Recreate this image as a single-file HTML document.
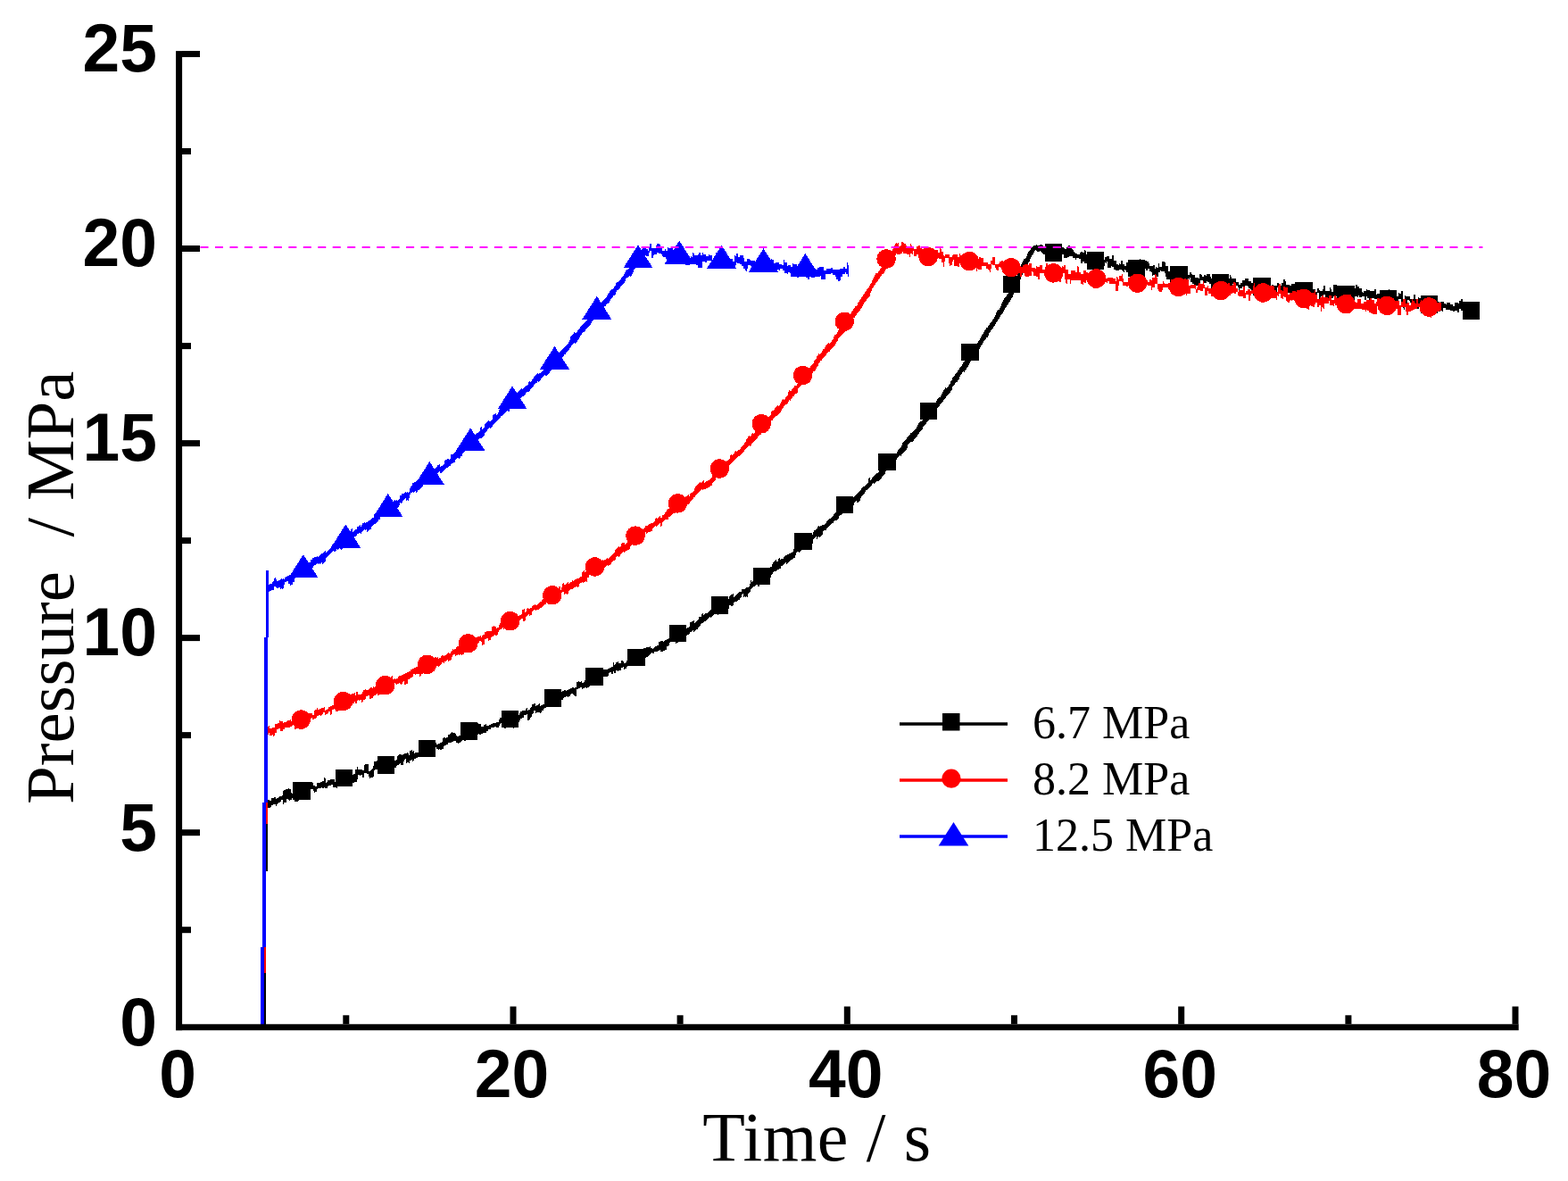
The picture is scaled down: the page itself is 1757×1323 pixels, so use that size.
<!DOCTYPE html>
<html><head><meta charset="utf-8"><title>Pressure vs Time</title>
<style>
html,body{margin:0;padding:0;background:#fff;}
body{width:1757px;height:1323px;overflow:hidden;}
svg{display:block;}
.tick{font-family:"Liberation Sans",Arial,sans-serif;font-weight:bold;font-size:75px;fill:#000;}
.title{font-family:"Liberation Serif","Times New Roman",serif;font-size:78px;fill:#000;}
.leg{font-family:"Liberation Serif","Times New Roman",serif;font-size:52px;fill:#000;}
</style></head><body>
<svg width="1757" height="1323" viewBox="0 0 1757 1323">
<rect width="1757" height="1323" fill="#fff"/>

<g shape-rendering="crispEdges">
<path fill="#000" d="M296 1151V976H297V899H300V976H298V1151Z"/>
<path fill="#000" d="M298 897H299V896H302V897H304V894H307V893H309V895H310V894H312V893H313V892H316V891H317V886H318V885H320V884H323V883H324V884H326V888H327V889H329V885H331V886H332V885H334V888H335V886H336V885H338V880H339V877H340V882H342V879H344V877H345V882H347V878H348V876H350V877H351V880H353V881H355V877H359V876H361V875H363V871H364V872H365V877H366V876H367V874H370V873H375V876H376V875H378V871H379V870H382V869H383V870H384V867H385V866H386V869H387V868H388V864H389V863H390V866H391V867H392V866H393V869H395V868H396V867H398V862H400V859H401V862H406V863H408V857H409V856H413V864H415V863H416V862H417V861H418V858H419V853H422V852H425V858H428V854H429V856H430V855H431V853H433V854H435V853H437V852H438V850H439V849H442V852H444V851H445V847H446V846H447V845H450V846H451V845H453V844H456V843H457V844H458V846H459V841H461V840H462V842H463V841H464V844H465V843H469V842H471V841H473V840H474V839H475V837H476V836H478V835H481V834H484V832H485V831H487V832H489V834H491V833H493V832H495V831H496V827H497V826H499V827H500V826H502V823H504V822H505V821H506V820H507V821H510V822H511V824H512V825H514V824H517V821H519V820H520V819H521V818H522V820H523V819H524V817H525V818H527V817H530V816H531V811H534V810H536V811H539V814H542V812H544V811H545V813H548V812H550V811H552V810H556V809H559V806H560V804H564V803H565V808H566V807H567V806H568V805H569V804H571V803H572V804H574V803H576V802H577V801H579V802H581V801H582V799H583V797H585V796H589V794H590V793H591V796H592V795H594V793H595V792H596V789H598V788H600V791H601V790H603V789H604V788H605V791H606V790H608V789H610V788H611V787H612V779H614V778H617V781H618V780H620V779H622V778H625V777H628V775H630V774H632V773H634V774H635V773H637V772H639V771H641V770H643V771H644V770H646V764H648V763H649V764H651V763H652V765H654V764H655V762H657V761H659V760H660V758H661V757H662V759H664V758H665V756H667V755H669V754H670V755H672V754H674V751H675V750H681V749H683V748H685V747H687V742H688V745H689V744H690V742H692V741H693V743H696V740H698V741H699V743H701V742H702V740H703V739H704V736H706V737H707V736H709V735H711V733H712V734H714V733H716V732H718V728H719V727H721V726H724V725H728V724H729V726H731V727H732V726H733V725H734V724H736V723H738V719H740V718H743V719H744V718H745V717H747V716H749V715H750V710H752V711H753V710H754V709H756V712H757V711H759V710H761V704H763V703H764V705H765V704H766V701H767V702H769V704H770V703H772V702H773V697H775V696H777V695H778V698H779V697H780V696H781V695H782V694H783V691H786V688H787V687H788V689H789V688H790V687H793V686H794V685H795V684H796V683H798V682H799V681H800V680H801V678H802V677H803V676H805V678H806V677H807V674H808V673H809V672H812V674H813V673H814V672H815V671H817V668H818V667H819V666H821V665H822V669H823V668H824V667H825V666H826V665H827V664H828V663H831V660H835V659H836V658H839V657H840V654H841V650H842V652H843V651H844V650H846V649H847V646H848V645H849V647H850V646H851V645H853V644H854V646H855V645H857V644H858V641H859V640H860V638H861V637H862V636H863V635H865V632H866V630H867V629H868V628H869V627H870V629H872V626H873V625H874V627H875V626H878V624H879V623H880V622H882V621H884V620H886V619H888V618H889V615H890V614H891V612H892V613H893V612H894V611H897V610H898V607H899V606H901V605H902V604H903V603H905V604H906V603H907V602H908V600H909V599H911V596H912V594H914V593H915V592H916V590H917V589H918V590H919V589H921V588H924V587H925V586H926V584H927V583H928V582H929V581H931V580H932V579H933V578H934V576H935V575H936V574H937V573H938V572H939V571H940V570H941V569H943V568H944V567H945V566H946V565H947V564H948V563H949V561H950V559H951V560H952V559H954V558H956V557H957V556H958V555H959V554H960V553H961V552H962V551H963V550H964V549H965V547H966V546H967V545H969V544H970V543H971V542H972V541H973V536H974V535H975V538H976V537H977V535H978V534H979V533H980V532H981V531H982V530H984V529H985V527H986V526H987V525H989V524H990V522H991V521H992V520H993V517H994V516H996V515H997V514H998V513H999V512H1001V510H1002V509H1004V508H1005V506H1006V504H1007V503H1008V502H1009V501H1010V499H1011V496H1012V495H1013V494H1014V493H1015V492H1016V490H1017V489H1018V488H1019V487H1020V485H1022V484H1023V483H1024V482H1025V481H1026V480H1027V478H1028V476H1029V474H1030V473H1031V472H1033V471H1034V470H1035V468H1036V467H1037V465H1038V464H1039V462H1040V461H1041V460H1042V458H1043V457H1044V456H1045V454H1046V453H1047V452H1048V451H1049V449H1050V447H1051V446H1052V445H1054V443H1055V441H1056V439H1057V437H1058V436H1059V434H1060V435H1061V434H1062V433H1063V431H1064V430H1065V427H1066V426H1067V423H1068V422H1069V421H1070V419H1071V418H1072V417H1073V415H1074V414H1075V412H1076V411H1077V410H1078V408H1079V406H1080V405H1081V404H1082V402H1083V400H1084V399H1085V397H1086V396H1087V394H1088V393H1089V392H1090V391H1091V389H1092V388H1093V386H1094V385H1095V384H1096V382H1097V381H1098V379H1099V377H1100V375H1101V374H1102V372H1103V370H1104V369H1105V367H1107V365H1108V364H1109V362H1110V361H1111V360H1112V358H1113V357H1114V355H1115V353H1116V350H1117V348H1118V347H1120V345H1121V343H1122V340H1123V338H1124V336H1125V334H1126V333H1127V332H1128V330H1129V329H1130V328H1131V326H1132V324H1133V322H1134V320H1135V319H1136V317H1137V315H1138V312H1139V309H1140V307H1141V304H1142V301H1143V299H1144V296H1145V294H1146V292H1147V290H1149V289H1150V287H1151V284H1152V282H1153V281H1154V280H1155V278H1156V277H1157V276H1158V275H1161V274H1162V275H1165V274H1168V275H1169V276H1171V278H1175V280H1178V282H1184V277H1186V278H1188V279H1190V277H1192V278H1193V279H1195V277H1196V276H1197V275H1199V276H1200V278H1201V279H1202V280H1203V282H1204V283H1205V284H1207V285H1210V283H1211V282H1213V283H1215V280H1216V281H1217V285H1220V286H1223V288H1225V291H1226V288H1228V286H1229V285H1233V286H1235V291H1238V288H1240V287H1243V290H1246V286H1248V292H1251V296H1253V297H1254V295H1255V296H1256V292H1258V296H1260V298H1262V294H1265V291H1267V293H1269V295H1270V298H1272V299H1273V297H1274V294H1277V290H1278V291H1279V293H1282V292H1285V293H1287V295H1288V298H1292V297H1294V301H1295V299H1296V300H1298V295H1299V299H1302V293H1305V294H1306V298H1309V304H1311V306H1315V307H1316V305H1317V306H1319V302H1323V299H1326V301H1328V303H1329V307H1330V308H1333V305H1335V307H1336V308H1339V311H1343V312H1344V307H1346V308H1347V310H1349V308H1351V309H1352V307H1356V310H1357V312H1358V313H1359V311H1361V313H1362V312H1365V313H1366V311H1367V312H1370V314H1371V313H1373V312H1378V308H1379V310H1380V312H1385V316H1388V319H1390V317H1392V314H1395V312H1399V315H1402V317H1405V313H1408V314H1409V315H1411V319H1415V316H1416V318H1417V316H1419V319H1420V317H1422V320H1424V322H1425V319H1427V320H1431V317H1433V318H1434V320H1436V317H1438V313H1440V315H1441V319H1445V320H1447V318H1452V319H1453V320H1454V321H1455V319H1459V323H1463V321H1464V322H1467V320H1469V324H1474V327H1476V323H1478V325H1479V326H1482V324H1483V320H1485V326H1490V322H1491V324H1492V327H1494V319H1498V324H1499V328H1506V326H1507V322H1513V323H1514V324H1515V326H1517V323H1519V319H1521V321H1523V323H1526V327H1527V328H1528V326H1531V324H1532V325H1535V326H1540V324H1542V330H1543V329H1547V330H1552V327H1556V324H1557V327H1559V328H1560V326H1562V330H1565V332H1567V328H1568V329H1570V326H1572V337H1574V331H1575V332H1580V335H1584V330H1586V335H1589V333H1590V334H1592V332H1595V338H1596V339H1599V336H1600V334H1601V335H1604V339H1608V340H1609V342H1611V338H1613V340H1614V338H1618V340H1620V341H1621V339H1625V341H1628V343H1630V339H1634V340H1635V337H1637V335H1639V340H1644V341H1646V339H1648V343H1649V344H1653V343H1655V347H1656V346H1657V357H1656V358H1653V351H1652V350H1647V352H1646V351H1642V349H1641V348H1637V346H1635V350H1633V348H1630V349H1628V348H1625V347H1620V345H1617V349H1616V348H1615V346H1614V349H1613V347H1612V346H1609V348H1605V345H1604V341H1603V346H1601V345H1599V347H1593V342H1590V346H1588V344H1586V343H1584V342H1583V340H1582V339H1580V337H1579V336H1577V342H1574V347H1573V345H1572V341H1570V335H1567V339H1566V341H1563V340H1562V336H1556V338H1552V336H1549V334H1546V340H1543V335H1540V334H1536V341H1534V334H1532V332H1531V336H1529V332H1526V333H1523V331H1522V333H1521V332H1517V334H1513V333H1512V335H1511V334H1510V333H1509V329H1507V333H1504V332H1499V336H1498V332H1494V334H1492V331H1490V335H1486V334H1485V330H1483V332H1480V336H1478V328H1476V336H1474V333H1472V329H1471V328H1469V330H1465V332H1460V331H1457V327H1450V328H1441V327H1440V330H1438V326H1436V327H1434V324H1433V322H1431V330H1428V326H1422V323H1419V324H1417V327H1415V329H1414V325H1409V322H1406V328H1402V324H1401V323H1399V321H1398V320H1395V323H1394V321H1392V323H1389V325H1388V322H1387V320H1385V319H1383V318H1381V325H1380V324H1377V319H1376V318H1375V320H1373V321H1371V322H1366V323H1365V319H1363V321H1362V322H1360V321H1359V325H1357V318H1355V316H1353V315H1352V317H1349V315H1348V314H1345V318H1344V320H1340V321H1339V319H1338V318H1336V316H1334V311H1333V313H1332V312H1330V314H1329V310H1327V309H1321V308H1319V312H1316V315H1312V314H1311V313H1307V310H1306V306H1305V304H1301V303H1300V305H1298V310H1295V312H1294V308H1292V309H1291V305H1290V304H1288V301H1286V303H1284V301H1282V302H1279V303H1277V304H1276V308H1273V307H1270V304H1267V301H1265V305H1262V303H1261V302H1260V305H1259V304H1258V303H1257V302H1254V303H1250V302H1248V299H1246V298H1245V300H1241V293H1240V295H1239V294H1238V298H1237V297H1235V298H1233V300H1231V296H1230V295H1229V296H1226V298H1225V295H1222V292H1218V295H1215V293H1213V295H1211V290H1209V289H1206V291H1205V289H1202V287H1198V288H1196V289H1192V285H1186V287H1184V288H1180V292H1178V291H1175V285H1174V284H1172V286H1171V285H1169V284H1168V283H1167V282H1166V281H1165V282H1162V281H1161V280H1160V281H1159V283H1158V285H1157V286H1156V288H1155V290H1154V293H1153V294H1152V296H1151V298H1150V299H1149V301H1148V302H1147V305H1146V308H1145V310H1144V313H1143V315H1142V318H1141V320H1140V322H1139V324H1138V326H1137V328H1136V330H1135V333H1134V334H1133V336H1132V338H1131V339H1130V341H1129V342H1128V344H1127V345H1126V347H1125V349H1124V351H1123V352H1122V353H1121V355H1120V357H1119V358H1118V360H1117V361H1116V363H1115V365H1114V366H1113V368H1112V369H1111V370H1110V372H1109V373H1108V376H1107V378H1105V380H1104V381H1103V382H1102V384H1101V386H1100V387H1099V389H1098V391H1097V393H1096V394H1095V395H1094V397H1093V398H1092V399H1091V401H1090V403H1089V404H1088V405H1087V407H1086V409H1085V411H1084V412H1083V414H1082V415H1081V417H1080V416H1079V417H1078V419H1077V420H1076V422H1075V425H1074V426H1073V428H1071V429H1070V431H1069V432H1068V433H1067V437H1066V438H1065V440H1064V441H1063V442H1062V443H1061V444H1060V446H1059V447H1058V448H1057V450H1056V451H1055V452H1054V453H1053V455H1052V456H1051V457H1050V460H1049V461H1048V462H1047V463H1046V465H1044V466H1043V467H1042V469H1041V471H1040V472H1039V473H1038V475H1037V476H1036V477H1035V478H1034V481H1033V482H1032V483H1031V484H1030V486H1029V487H1028V489H1027V490H1026V491H1025V492H1024V494H1023V495H1020V496H1019V497H1018V498H1017V502H1016V504H1015V505H1014V506H1013V507H1012V508H1011V509H1010V511H1009V510H1008V511H1007V512H1006V513H1005V515H1004V519H1003V520H1002V519H1001V520H999V521H998V522H997V523H996V524H995V525H994V526H993V528H992V531H991V532H990V533H989V534H988V536H987V537H986V538H985V539H982V540H981V541H980V542H979V541H978V542H977V544H976V545H975V546H974V547H973V548H972V549H970V551H969V553H968V554H967V555H966V556H965V558H964V561H963V562H962V563H960V561H959V562H958V563H957V566H956V567H955V568H954V569H953V568H951V569H950V571H947V572H946V573H945V574H944V576H943V577H941V578H940V581H939V582H938V583H935V584H934V586H932V587H931V588H930V589H929V590H928V591H927V592H926V594H923V595H922V599H921V600H920V601H919V602H918V601H917V602H916V604H915V601H914V602H913V603H912V604H911V609H910V610H909V611H908V612H904V613H903V614H902V613H901V614H899V615H898V617H897V618H896V619H895V618H893V619H892V622H891V625H889V626H888V627H886V628H885V629H884V630H883V631H882V632H881V630H880V631H879V632H878V633H877V634H875V637H873V638H871V639H870V640H867V641H866V643H865V644H864V647H863V648H862V649H861V650H858V651H857V652H856V651H855V652H854V650H853V653H852V654H851V657H849V655H847V656H846V657H844V658H843V659H842V660H841V663H840V664H839V665H838V669H837V668H836V669H835V668H834V669H833V665H832V666H831V669H830V670H829V672H827V673H826V674H823V675H822V678H821V679H819V678H817V682H815V683H814V681H813V682H811V683H809V682H808V683H807V688H805V689H804V686H803V687H801V688H800V689H799V690H798V691H797V692H796V691H795V692H794V693H793V694H792V695H791V696H789V697H788V698H786V699H785V701H784V702H783V703H782V705H780V706H779V707H778V708H777V706H776V707H775V708H773V710H772V711H770V712H769V714H768V715H767V714H766V715H765V716H763V717H762V718H761V719H760V720H758V721H757V718H756V716H754V717H752V719H751V720H750V723H749V724H747V728H745V729H743V730H740V728H739V729H737V730H733V732H731V731H730V732H729V733H728V734H727V735H726V736H724V737H723V736H722V737H721V738H720V740H718V742H717V744H716V745H714V746H713V745H712V744H710V745H709V744H707V745H706V746H704V745H703V747H702V749H700V750H699V747H698V748H696V751H693V752H692V751H690V754H688V752H687V755H685V753H683V754H682V757H681V758H676V760H673V761H672V760H670V761H669V763H667V764H665V765H664V767H662V768H661V769H660V770H658V771H657V770H655V771H653V772H652V770H650V771H648V772H646V780H644V779H643V778H642V777H640V778H639V780H637V781H636V780H634V781H632V782H631V784H629V788H626V784H625V785H623V783H622V784H620V785H619V788H618V789H617V790H616V788H613V789H612V793H610V794H609V796H607V798H606V799H605V798H601V799H600V796H598V799H597V800H596V803H595V804H594V806H593V807H591V800H590V801H587V804H585V805H583V807H582V809H581V810H579V811H578V815H576V816H575V813H572V810H569V812H567V816H565V814H564V810H561V811H560V813H559V815H556V814H554V815H550V817H547V819H545V821H541V822H539V823H537V822H536V823H534V820H533V821H530V822H527V824H526V825H524V829H522V830H520V828H519V829H518V830H517V831H516V832H514V833H513V832H511V830H508V831H506V832H502V834H500V835H498V836H497V839H495V840H493V839H492V840H491V839H489V837H487V839H485V840H483V842H481V843H477V844H476V845H475V844H474V845H473V846H471V847H469V848H468V849H466V850H464V852H463V853H462V851H461V852H459V855H458V854H456V855H455V850H454V851H453V853H452V857H449V855H448V856H447V857H445V858H444V860H441V857H439V861H437V862H436V863H435V861H434V862H432V861H431V863H430V864H429V862H428V865H427V866H425V864H424V862H420V863H419V870H418V871H415V872H414V870H413V867H411V866H408V871H406V868H404V869H403V868H401V873H400V876H397V877H395V878H394V879H391V878H390V876H387V877H385V878H383V879H381V878H378V883H377V882H373V879H371V880H368V881H367V883H364V882H363V883H361V882H360V883H356V884H355V887H353V888H352V886H351V884H348V887H344V890H343V892H342V888H340V890H339V892H338V893H335V897H334V898H330V893H328V894H327V896H325V897H324V896H323V895H321V899H318V901H317V896H315V898H314V899H312V900H311V901H310V903H309V901H306V902H304V904H303V905H300V906H298Z"/>
<g fill="#000"><rect x="328.1" y="876.0" width="19.5" height="19.5"/><rect x="375.6" y="861.9" width="19.5" height="19.5"/><rect x="422.6" y="847.0" width="19.5" height="19.5"/><rect x="468.9" y="828.5" width="19.5" height="19.5"/><rect x="515.6" y="809.2" width="19.5" height="19.5"/><rect x="561.9" y="795.9" width="19.5" height="19.5"/><rect x="609.5" y="772.0" width="19.5" height="19.5"/><rect x="656.2" y="748.1" width="19.5" height="19.5"/><rect x="703.0" y="726.5" width="19.5" height="19.5"/><rect x="749.6" y="699.6" width="19.5" height="19.5"/><rect x="796.5" y="668.2" width="19.5" height="19.5"/><rect x="843.5" y="635.5" width="19.5" height="19.5"/><rect x="890.4" y="596.8" width="19.5" height="19.5"/><rect x="936.8" y="555.8" width="19.5" height="19.5"/><rect x="984.2" y="507.5" width="19.5" height="19.5"/><rect x="1030.5" y="450.6" width="19.5" height="19.5"/><rect x="1077.0" y="384.6" width="19.5" height="19.5"/><rect x="1123.8" y="308.9" width="19.5" height="19.5"/><rect x="1170.8" y="273.2" width="19.5" height="19.5"/><rect x="1217.5" y="282.4" width="19.5" height="19.5"/><rect x="1263.5" y="290.6" width="19.5" height="19.5"/><rect x="1311.3" y="297.9" width="19.5" height="19.5"/><rect x="1357.8" y="306.8" width="19.5" height="19.5"/><rect x="1404.3" y="311.1" width="19.5" height="19.5"/><rect x="1451.2" y="316.1" width="19.5" height="19.5"/><rect x="1498.3" y="319.9" width="19.5" height="19.5"/><rect x="1545.5" y="324.8" width="19.5" height="19.5"/><rect x="1591.8" y="331.1" width="19.5" height="19.5"/><rect x="1638.7" y="338.1" width="19.5" height="19.5"/></g>
<path fill="#f00" d="M296 1090V1061H295V923H297V812H300V923H298V1090Z"/>
<path fill="#f00" d="M299 814H301V813H302V816H305V815H308V811H311V810H313V807H314V808H317V810H318V809H321V808H322V807H325V806H326V808H327V806H330V805H332V806H333V805H335V806H337V805H339V804H340V803H342V801H343V800H346V799H350V801H352V796H353V795H355V793H356V795H358V794H360V793H363V792H364V796H365V795H367V794H368V792H370V791H372V790H374V789H375V788H377V787H378V784H381V787H383V786H385V785H386V781H387V780H388V777H389V776H390V778H391V777H392V778H394V777H397V776H398V779H399V775H401V778H405V777H406V775H407V773H409V772H410V773H413V772H414V771H415V770H417V771H418V769H419V770H420V769H423V771H425V770H428V769H432V767H434V764H436V760H438V758H439V757H440V761H442V760H443V761H444V760H446V758H447V757H450V756H452V755H454V754H456V753H458V752H460V750H462V749H464V748H466V747H470V748H472V747H474V745H475V742H477V743H479V744H480V743H481V741H483V742H485V737H487V736H489V737H490V736H491V738H492V737H494V735H495V734H497V735H498V734H500V733H501V732H502V731H503V732H505V730H506V729H507V727H508V728H509V727H511V725H512V724H516V723H518V722H520V721H522V719H523V718H524V719H525V721H526V720H527V717H529V713H531V714H532V715H533V714H535V713H538V712H539V714H540V712H541V711H543V708H545V707H551V702H553V701H554V702H556V704H557V703H559V700H560V698H562V697H563V698H564V699H566V698H567V700H568V699H569V697H570V696H571V693H573V692H574V694H575V692H577V691H578V693H579V691H580V690H582V689H584V688H585V683H587V682H588V686H589V685H590V682H591V681H592V682H594V681H596V679H597V678H599V677H600V678H602V677H603V676H604V675H605V674H607V672H608V671H609V668H611V667H613V666H614V668H615V670H616V669H618V664H619V663H622V664H623V663H624V662H625V660H626V657H628V661H629V658H630V654H631V653H632V655H634V654H635V653H636V652H637V654H638V653H639V652H641V650H642V651H643V650H644V649H646V648H649V647H650V646H652V641H653V640H654V639H655V641H656V640H657V641H658V640H660V638H661V637H662V636H664V637H666V636H667V633H668V632H669V631H670V630H671V629H672V631H673V629H674V628H675V627H676V628H677V627H679V626H680V625H681V626H682V625H683V624H684V623H685V622H686V621H687V620H688V619H689V616H690V615H691V614H692V613H693V612H694V613H695V612H696V609H697V608H700V610H701V609H702V608H703V607H704V604H706V603H708V599H710V600H711V599H712V600H713V599H715V598H716V597H717V596H719V594H720V593H721V592H722V591H723V589H726V588H727V587H729V586H732V585H733V584H734V581H735V580H736V581H737V580H738V579H739V578H740V580H742V577H744V576H745V574H746V573H747V571H748V570H750V569H753V568H754V565H756V566H757V565H758V562H760V560H761V559H762V558H763V557H764V558H765V557H766V558H767V557H768V556H770V555H771V554H772V556H773V553H774V552H776V551H777V550H778V547H779V545H780V544H781V543H782V542H783V541H784V540H785V541H786V540H787V539H788V538H789V541H790V540H791V539H793V538H795V537H796V536H797V535H798V531H799V530H800V529H801V528H803V527H804V526H805V525H806V524H807V523H808V522H809V523H810V522H811V519H812V518H813V517H814V516H816V515H817V514H818V510H819V509H820V510H821V509H822V508H823V506H824V505H825V506H826V505H827V504H829V503H830V501H831V500H832V499H833V498H834V496H835V495H836V492H837V491H838V489H839V488H840V489H841V488H842V486H843V485H844V486H845V485H846V483H847V482H848V481H849V479H850V477H851V475H853V476H854V475H855V474H856V473H857V472H858V471H859V470H860V468H861V467H862V466H863V465H864V461H865V460H867V459H868V457H869V456H870V455H871V454H872V455H873V454H874V452H875V450H876V448H877V447H878V448H879V447H880V445H881V444H882V443H883V439H884V437H885V438H887V436H888V435H889V434H890V432H893V430H894V428H895V426H896V425H897V424H898V422H899V421H900V420H902V418H903V417H904V416H905V414H906V413H907V412H908V410H909V409H910V408H911V407H912V404H913V403H914V402H915V399H916V398H917V396H918V397H919V396H920V395H921V393H922V391H924V389H925V387H926V386H927V385H928V384H929V385H930V384H931V383H932V381H933V380H934V377H935V375H937V374H938V372H939V370H940V368H941V367H942V364H943V363H944V362H945V361H946V360H947V358H948V357H949V356H950V354H952V353H953V351H954V349H955V348H956V346H957V345H958V343H960V342H961V339H962V338H963V336H964V335H965V333H966V332H967V330H968V329H969V327H970V326H971V324H972V323H973V322H974V320H975V318H976V317H977V314H978V312H979V310H980V308H981V306H984V304H985V303H986V301H987V300H988V298H990V296H991V294H992V292H993V288H994V287H996V286H997V285H998V284H999V282H1000V279H1001V277H1002V275H1003V273H1004V272H1005V273H1006V272H1007V276H1009V275H1010V271H1012V272H1013V273H1015V275H1016V276H1019V277H1020V273H1021V275H1022V276H1024V279H1027V276H1029V275H1031V278H1033V279H1034V280H1036V279H1038V280H1042V285H1044V283H1046V286H1048V280H1051V283H1053V278H1054V279H1055V282H1057V286H1058V287H1059V285H1064V288H1067V286H1068V285H1073V288H1075V284H1076V286H1077V289H1078V285H1079V286H1082V291H1087V289H1088V285H1092V288H1094V292H1095V290H1097V288H1099V289H1102V294H1107V296H1110V292H1112V288H1115V296H1119V295H1120V293H1122V292H1124V293H1127V298H1128V299H1130V295H1134V298H1137V299H1140V295H1142V300H1143V301H1144V299H1146V297H1148V296H1152V297H1153V295H1156V300H1160V301H1161V298H1162V299H1165V297H1168V302H1171V299H1172V295H1174V301H1176V305H1177V306H1179V304H1183V305H1187V307H1190V298H1191V299H1192V297H1194V302H1197V307H1200V303H1205V305H1207V298H1208V299H1209V305H1211V307H1214V303H1217V305H1219V311H1222V307H1225V310H1227V308H1229V306H1230V307H1233V305H1235V307H1237V312H1241V311H1247V312H1250V315H1251V310H1252V311H1253V313H1254V309H1257V307H1258V312H1259V316H1264V311H1267V312H1269V314H1271V312H1275V314H1278V310H1279V312H1283V314H1286V316H1288V313H1290V314H1291V311H1294V307H1295V308H1296V311H1297V318H1303V315H1304V317H1305V318H1309V317H1312V313H1314V315H1315V316H1316V315H1320V314H1327V312H1329V313H1332V320H1334V319H1340V324H1341V322H1342V319H1343V317H1345V318H1348V315H1349V319H1350V322H1353V320H1354V323H1360V322H1361V324H1364V321H1366V322H1367V315H1369V322H1370V325H1375V322H1376V317H1378V320H1381V319H1382V316H1384V317H1385V323H1387V327H1388V325H1393V321H1395V328H1396V326H1398V324H1401V326H1402V325H1404V320H1405V317H1406V322H1409V325H1410V323H1411V326H1413V328H1415V329H1417V324H1418V322H1420V324H1422V322H1423V320H1427V321H1428V325H1430V327H1432V320H1433V318H1435V325H1437V326H1438V321H1440V322H1443V330H1445V328H1448V326H1452V327H1453V325H1455V331H1456V332H1457V329H1462V333H1463V328H1466V335H1467V334H1469V328H1473V325H1474V330H1476V335H1479V333H1481V331H1483V333H1488V334H1489V331H1492V336H1495V331H1497V333H1498V334H1500V335H1501V333H1506V334H1507V335H1509V340H1510V337H1511V330H1514V335H1516V339H1521V335H1525V340H1528V338H1531V336H1535V334H1537V336H1540V340H1542V338H1543V334H1546V337H1548V335H1551V336H1553V338H1554V341H1555V339H1559V334H1562V337H1568V342H1570V338H1572V335H1575V340H1577V339H1579V342H1581V339H1582V335H1583V337H1585V339H1586V340H1587V335H1589V340H1591V338H1592V336H1593V337H1594V338H1595V335H1598V340H1601V342H1603V345H1608V342H1610V339H1615V348H1613V349H1610V347H1608V349H1604V356H1603V353H1601V344H1599V347H1598V346H1596V351H1593V349H1592V342H1591V344H1588V346H1585V347H1583V348H1581V349H1578V353H1576V349H1575V344H1570V353H1566V346H1565V343H1559V347H1557V350H1554V347H1553V344H1548V346H1546V343H1543V352H1538V351H1536V350H1534V348H1532V347H1531V349H1530V347H1526V346H1518V345H1517V343H1516V342H1515V344H1513V348H1510V344H1506V342H1500V340H1499V342H1496V340H1495V343H1494V342H1490V337H1489V340H1484V346H1483V345H1482V344H1481V349H1480V342H1478V344H1476V339H1474V341H1473V344H1471V343H1469V341H1467V347H1466V346H1464V339H1462V336H1459V338H1457V343H1455V337H1454V336H1453V338H1452V337H1451V336H1448V337H1447V336H1446V337H1445V339H1443V338H1442V337H1441V333H1439V332H1438V335H1437V334H1435V329H1433V332H1432V331H1431V336H1430V334H1424V331H1422V333H1421V332H1420V331H1417V335H1413V336H1411V333H1410V329H1409V326H1405V329H1402V331H1401V337H1399V330H1396V334H1393V332H1388V331H1387V327H1385V329H1383V328H1381V329H1379V331H1375V334H1374V335H1372V336H1370V333H1369V328H1366V330H1364V333H1363V328H1360V330H1359V332H1357V329H1354V326H1353V331H1350V323H1348V326H1345V325H1342V328H1340V324H1339V323H1334V329H1330V331H1329V328H1326V321H1323V320H1320V326H1317V328H1316V327H1313V326H1312V324H1309V322H1303V325H1302V327H1299V326H1298V324H1297V318H1294V322H1291V325H1290V320H1286V319H1285V318H1283V321H1281V317H1280V316H1278V325H1275V323H1273V319H1271V318H1270V322H1268V323H1265V318H1264V321H1262V320H1258V316H1257V315H1254V320H1253V326H1250V318H1243V315H1241V317H1240V316H1236V320H1235V319H1231V318H1230V317H1227V323H1225V321H1223V320H1222V316H1220V315H1219V314H1217V317H1215V316H1214V319H1213V318H1211V314H1200V318H1199V313H1196V318H1195V317H1194V313H1193V306H1190V311H1189V316H1187V314H1186V312H1183V313H1181V317H1179V312H1176V314H1174V306H1171V308H1170V306H1165V313H1163V310H1161V309H1158V305H1157V304H1156V309H1153V310H1149V309H1148V306H1145V310H1143V306H1141V304H1138V303H1137V305H1134V304H1133V309H1131V308H1128V306H1124V301H1122V300H1121V299H1119V303H1117V302H1116V300H1115V297H1112V296H1111V301H1110V305H1109V303H1108V302H1107V301H1105V298H1100V302H1096V301H1095V304H1094V299H1092V292H1088V296H1086V298H1084V302H1082V295H1079V293H1077V295H1075V299H1073V298H1069V291H1068V293H1067V297H1065V298H1064V295H1063V289H1059V293H1058V299H1057V294H1055V290H1052V289H1048V290H1046V287H1044V290H1042V292H1041V291H1038V290H1037V292H1036V293H1033V292H1032V290H1031V288H1029V285H1027V287H1024V281H1023V285H1022V284H1020V288H1019V285H1016V284H1012V282H1011V284H1009V285H1005V284H1004V286H1002V288H1001V290H1000V291H999V293H998V294H997V295H996V297H995V298H994V300H993V302H992V304H991V306H990V307H988V309H987V310H986V312H985V313H984V315H983V316H982V317H981V319H980V320H979V322H978V323H977V326H976V328H975V332H974V333H973V334H972V335H971V337H970V338H969V339H968V341H967V343H966V345H965V346H964V348H963V349H962V350H961V351H960V353H959V354H958V356H956V359H955V360H954V362H952V364H951V366H950V367H949V368H948V370H947V372H946V373H945V374H944V375H943V376H942V377H941V378H940V379H939V382H938V383H937V385H936V387H935V388H934V389H933V390H932V391H931V392H930V394H928V395H927V396H926V398H925V399H924V400H923V401H922V402H921V404H919V406H918V407H917V410H916V411H915V413H914V415H913V416H911V418H909V420H908V421H907V423H906V424H905V425H904V426H903V427H902V428H901V429H900V431H899V430H898V432H897V433H896V434H895V435H894V440H893V441H891V442H890V444H888V446H887V447H886V449H885V448H884V450H883V452H882V453H880V454H879V455H878V457H877V458H876V460H875V462H874V463H873V464H872V465H871V466H869V467H868V468H867V469H866V471H864V473H863V475H862V476H861V477H860V478H859V480H858V481H856V482H855V484H854V485H853V487H851V488H850V489H849V491H848V492H847V493H846V494H845V495H844V496H843V497H842V499H841V500H840V499H839V500H838V501H837V502H836V503H835V504H834V506H833V507H832V508H831V509H830V510H829V511H827V512H826V513H825V514H824V515H823V516H822V517H821V518H820V519H819V520H818V521H817V522H816V523H815V527H814V528H813V529H812V530H811V529H810V530H808V531H807V533H805V534H803V535H802V538H801V539H800V540H799V541H798V544H796V545H795V546H793V547H791V548H788V549H787V548H786V549H785V550H784V551H783V552H782V553H781V554H780V555H779V557H777V559H776V560H775V561H774V562H773V564H772V565H770V566H769V565H768V566H767V568H766V567H765V568H764V567H761V568H760V570H759V571H758V574H757V575H754V576H753V577H752V578H751V579H749V582H745V583H744V584H743V585H742V589H741V590H740V586H739V587H738V588H737V589H736V590H735V589H734V590H733V591H732V592H731V595H729V596H726V597H725V598H724V596H723V599H722V600H721V601H720V602H719V603H718V604H717V605H716V606H715V608H714V610H712V609H711V610H710V611H709V610H708V611H707V612H706V615H705V616H703V617H701V618H700V619H699V618H698V619H697V620H696V621H695V623H694V624H693V623H691V624H690V627H689V628H687V629H686V630H685V632H684V633H682V634H681V633H680V634H679V635H678V636H676V634H675V635H673V637H672V638H670V641H669V643H668V644H666V645H665V643H664V642H662V643H661V644H660V647H658V652H657V651H656V652H654V653H653V652H652V653H650V654H649V657H648V658H647V657H645V658H643V659H642V660H639V661H638V662H637V665H636V666H635V665H633V666H632V663H630V664H629V666H628V667H627V668H625V671H623V672H620V673H618V674H617V675H615V673H614V674H613V675H612V677H610V678H609V679H608V680H607V681H605V682H604V683H601V684H600V683H598V684H597V685H596V689H594V690H593V688H592V689H591V690H590V691H589V695H588V696H586V693H584V694H583V695H581V698H580V699H579V700H578V701H576V702H574V699H572V700H571V705H569V704H568V705H567V704H565V705H564V703H563V704H562V705H560V706H559V708H558V711H557V712H555V711H554V712H553V713H551V714H550V717H548V718H547V715H545V716H543V722H541V723H540V719H539V718H537V720H536V721H535V722H534V723H532V722H530V723H528V722H527V726H525V728H522V729H520V733H518V734H517V733H515V734H514V733H513V734H511V735H510V733H508V734H507V736H506V739H505V740H503V741H502V739H501V740H500V741H498V743H497V742H495V744H494V745H493V746H492V747H491V746H489V747H488V744H487V745H485V750H484V753H483V752H481V753H479V754H477V753H476V752H475V754H474V755H472V757H471V758H470V755H466V756H465V755H463V758H462V759H460V760H459V761H457V766H455V767H453V763H452V764H451V766H450V767H449V766H448V765H447V766H445V767H444V766H443V765H442V767H441V768H439V769H438V771H437V773H435V771H434V773H433V774H431V777H428V778H425V779H423V777H422V778H421V779H419V780H418V782H416V783H414V779H412V780H410V783H409V784H407V786H406V787H405V784H403V785H402V784H401V785H400V788H398V786H397V788H394V784H393V785H391V788H390V789H389V791H388V794H387V795H384V794H383V795H381V796H379V797H376V795H375V794H374V795H372V800H371V801H370V797H368V799H367V800H365V801H364V798H362V800H361V801H360V802H359V801H357V802H355V804H354V805H352V806H350V804H349V805H348V806H347V807H346V808H344V807H343V808H342V811H339V810H336V811H335V815H334V816H332V817H330V812H328V813H327V814H325V815H319V817H317V819H314V816H312V817H310V821H308V824H307V825H306V823H305V824H302V821H301V823H299Z"/>
<g fill="#f00"><circle cx="337.3" cy="806.1" r="10.7"/><circle cx="384.6" cy="785.5" r="10.7"/><circle cx="431.6" cy="767.6" r="10.7"/><circle cx="478.6" cy="744.4" r="10.7"/><circle cx="524.6" cy="720.8" r="10.7"/><circle cx="571.6" cy="695.6" r="10.7"/><circle cx="618.8" cy="666.8" r="10.7"/><circle cx="666.5" cy="635.0" r="10.7"/><circle cx="712.0" cy="600.1" r="10.7"/><circle cx="759.4" cy="563.9" r="10.7"/><circle cx="806.3" cy="525.0" r="10.7"/><circle cx="853.3" cy="474.7" r="10.7"/><circle cx="899.5" cy="420.5" r="10.7"/><circle cx="946.2" cy="360.2" r="10.7"/><circle cx="993.1" cy="290.0" r="10.7"/><circle cx="1040.1" cy="287.7" r="10.7"/><circle cx="1086.2" cy="292.6" r="10.7"/><circle cx="1133.0" cy="299.8" r="10.7"/><circle cx="1180.6" cy="305.8" r="10.7"/><circle cx="1228.6" cy="312.0" r="10.7"/><circle cx="1274.7" cy="317.2" r="10.7"/><circle cx="1320.5" cy="321.5" r="10.7"/><circle cx="1368.3" cy="325.6" r="10.7"/><circle cx="1415.4" cy="328.0" r="10.7"/><circle cx="1461.0" cy="334.5" r="10.7"/><circle cx="1508.1" cy="340.8" r="10.7"/><circle cx="1554.3" cy="342.4" r="10.7"/><circle cx="1601.2" cy="344.0" r="10.7"/></g>
<path fill="#00f" d="M292 1151V1061H294V899H296V714H298V639H301V714H300V899H298V1061H296V1151Z"/>
<path fill="#00f" d="M301 655H302V654H305V652H306V651H307V648H308V647H309V649H310V651H312V650H314V649H315V648H316V649H317V648H318V649H319V647H320V646H322V645H324V644H325V646H326V645H327V642H328V641H330V640H331V636H333V635H334V634H335V633H336V636H337V635H338V637H339V636H340V637H342V636H343V634H344V633H345V631H346V630H348V627H350V625H352V624H355V623H356V624H357V623H358V622H359V621H360V620H362V619H363V618H364V617H365V619H366V618H367V617H368V616H369V615H370V614H371V613H372V610H373V609H374V608H375V611H376V610H377V608H379V607H380V606H381V605H382V606H383V603H384V602H386V603H388V601H389V600H390V599H391V596H392V595H393V593H394V592H395V596H396V595H397V594H398V593H400V590H402V589H403V588H404V590H405V588H406V586H408V585H409V586H410V585H412V584H413V583H415V582H416V581H417V580H419V576H420V575H421V574H422V577H423V576H424V575H426V571H428V570H429V567H430V566H431V565H433V564H435V563H436V566H437V565H439V564H440V563H441V561H442V560H443V561H444V560H445V561H446V560H447V559H448V555H450V553H453V552H454V551H455V552H456V551H457V552H458V551H459V547H460V545H461V544H462V541H464V540H466V539H467V538H468V537H469V536H470V535H473V534H475V533H476V532H477V531H479V530H481V529H482V530H484V528H485V527H486V525H488V524H489V523H490V521H492V520H493V523H494V522H496V521H497V520H498V516H499V515H501V514H503V515H504V514H505V509H508V508H509V507H510V506H511V505H512V504H515V503H516V502H517V498H518V497H519V499H520V498H521V496H522V494H523V493H524V491H525V490H526V491H527V490H528V489H529V488H530V487H531V488H532V487H533V486H534V485H536V484H537V483H538V479H539V478H540V481H541V480H542V479H543V475H544V474H545V473H546V472H547V471H548V472H550V471H551V470H552V465H553V464H555V463H556V465H557V464H558V462H559V459H560V458H561V457H562V455H563V454H564V453H565V452H566V451H567V453H568V452H569V451H570V450H571V449H572V448H573V447H575V443H576V442H577V441H579V440H580V439H581V438H582V437H583V436H584V435H585V436H586V435H587V434H588V433H589V432H591V431H592V428H593V427H594V428H595V427H596V425H597V424H598V422H599V421H600V420H601V419H602V418H603V419H604V418H606V417H607V416H608V415H609V414H610V412H611V411H613V410H614V407H615V406H616V404H617V406H618V405H619V404H620V403H621V401H622V398H623V397H624V396H625V394H626V395H627V394H628V393H629V392H630V391H631V390H632V389H633V388H634V387H635V386H636V385H637V383H638V381H639V377H640V376H641V375H642V374H643V372H644V373H646V372H647V370H648V369H649V368H650V366H651V365H652V364H653V363H654V362H655V361H656V360H657V359H658V357H659V356H660V355H661V354H662V351H663V350H664V349H666V348H667V347H668V345H669V344H670V342H671V341H672V340H673V339H674V338H675V337H676V336H677V335H678V334H679V333H680V331H681V329H682V328H683V326H684V325H685V324H687V323H688V321H689V320H690V317H691V316H693V315H694V314H695V313H696V311H697V310H698V309H699V307H700V305H701V303H702V302H704V301H705V300H706V298H708V296H709V295H710V292H711V291H712V290H713V289H714V287H716V285H717V282H718V281H719V279H720V278H722V277H724V279H726V281H727V277H728V273H730V278H735V275H736V273H739V274H740V278H742V281H745V279H746V281H748V277H749V278H752V276H753V277H754V282H756V284H759V286H761V285H764V290H765V287H768V286H769V287H771V290H772V291H774V287H775V288H776V283H777V284H778V286H782V285H783V283H785V286H787V283H788V285H791V287H794V285H795V286H798V291H800V287H802V283H804V284H805V288H807V289H809V290H812V288H813V289H817V290H821V293H823V286H824V287H825V284H827V288H829V286H833V289H834V293H837V290H840V291H841V292H846V294H847V293H848V291H849V295H851V291H852V292H856V288H860V290H862V292H864V290H865V291H867V295H869V294H873V296H876V297H878V291H879V294H882V298H883V297H886V299H888V295H889V296H893V303H896V299H897V293H901V296H904V302H907V300H913V302H916V300H918V299H923V303H926V301H931V300H933V302H941V301H945V299H947V301H949V294H950V297H951V310H950V307H948V305H947V307H944V310H942V314H941V315H939V313H937V310H936V308H933V306H931V307H925V313H920V309H918V310H913V311H909V307H907V313H905V311H903V308H901V306H898V305H896V309H895V311H893V309H892V308H891V310H886V306H885V305H883V307H882V306H879V303H877V301H874V303H873V302H869V303H864V300H862V299H859V303H856V298H851V302H849V298H848V297H847V299H844V305H842V298H841V297H838V301H837V304H836V303H835V301H833V298H831V296H829V295H826V294H825V297H824V301H821V299H817V297H816V295H813V299H812V300H811V298H807V294H802V295H798V292H792V294H790V293H787V300H782V297H780V296H777V294H774V295H773V297H768V294H766V293H765V296H761V293H759V290H756V289H755V288H753V287H752V289H751V288H749V290H748V294H747V290H746V288H743V287H742V285H741V284H738V283H736V285H733V286H732V289H730V281H728V283H727V287H724V286H722V287H720V289H719V291H718V293H717V295H716V296H714V298H713V299H712V301H711V302H710V305H709V307H708V309H707V310H706V309H705V310H704V311H702V312H701V315H700V317H699V318H698V319H697V320H696V321H695V323H694V324H693V325H691V327H690V330H689V331H687V333H686V334H685V335H684V337H683V339H682V340H680V341H679V343H677V344H676V346H675V348H674V349H673V350H672V351H670V352H669V353H668V355H667V357H666V358H665V359H664V360H663V362H662V364H661V365H660V366H659V367H658V368H657V369H656V371H655V372H653V373H652V375H651V376H650V378H649V380H648V381H647V383H646V384H645V385H644V384H643V385H642V386H641V387H640V389H639V390H638V392H637V393H636V394H635V395H634V397H632V399H631V400H630V402H629V403H628V404H627V405H626V404H625V406H624V407H622V410H621V411H620V413H619V414H618V415H617V416H616V418H615V419H614V420H613V421H611V420H610V421H609V422H608V423H607V424H606V426H605V427H604V428H603V427H602V429H600V430H599V431H598V433H597V434H596V435H595V436H594V438H593V439H590V440H589V442H588V443H587V444H585V445H584V446H582V447H581V448H580V449H579V450H578V451H577V452H576V451H575V453H574V454H573V455H572V456H571V461H569V460H568V461H567V462H566V463H565V464H564V465H563V466H561V468H560V469H559V470H558V471H557V472H556V473H555V474H554V475H553V476H552V478H551V479H550V480H549V479H548V480H547V481H546V483H545V484H544V485H543V488H542V489H541V490H540V491H537V492H536V493H534V494H533V495H532V496H531V497H530V498H529V499H528V500H527V501H525V502H524V503H522V504H521V506H520V507H519V508H518V511H516V513H515V514H514V513H512V514H511V515H510V518H508V519H506V520H505V522H503V523H502V524H500V525H499V526H498V527H497V528H496V529H495V530H493V528H492V529H491V530H490V531H489V532H488V534H487V535H486V536H484V538H481V539H480V540H478V541H477V542H475V543H474V545H473V546H472V547H471V548H470V549H468V551H467V552H466V550H465V551H464V552H463V551H462V552H460V554H459V558H458V561H457V560H456V561H455V558H454V559H453V560H452V561H451V563H450V564H449V563H448V566H447V568H446V569H445V570H444V571H443V570H442V571H441V573H439V574H438V575H437V576H436V574H434V575H433V576H432V577H431V576H430V577H429V576H428V577H427V578H426V582H424V584H423V585H422V586H421V587H419V588H418V589H417V590H416V593H414V594H413V595H412V596H411V593H410V594H409V593H408V594H407V595H406V596H405V598H404V597H402V598H400V600H399V601H397V603H396V604H395V602H394V603H393V606H392V607H391V610H390V611H389V609H388V610H386V611H385V614H384V615H383V616H382V615H381V614H380V615H379V616H378V615H377V617H376V618H374V617H373V618H372V619H371V620H370V621H369V622H368V623H367V624H366V625H365V629H364V630H363V631H362V632H361V630H360V631H359V632H358V631H357V632H356V631H355V632H354V633H352V634H351V636H350V637H349V638H347V639H343V641H342V642H341V643H340V645H338V643H337V645H336V646H334V644H333V645H332V646H331V648H330V652H328V655H326V656H325V654H323V651H321V652H319V655H318V659H317V660H316V659H315V660H314V658H312V659H310V658H309V657H307V661H304V662H302V663H301Z"/>
<g fill="#00f"><polygon points="339.9,621.1 356.5,647.2 323.3,647.2"/><polygon points="387.4,587.4 404.0,613.5 370.8,613.5"/><polygon points="434.8,552.9 451.4,579.0 418.2,579.0"/><polygon points="481.3,517.0 497.9,543.1 464.7,543.1"/><polygon points="527.2,479.3 543.8,505.4 510.6,505.4"/><polygon points="574.1,432.3 590.7,458.4 557.5,458.4"/><polygon points="621.5,387.8 638.1,413.9 604.9,413.9"/><polygon points="668.8,331.8 685.4,357.9 652.2,357.9"/><polygon points="715.0,274.2 731.6,300.3 698.4,300.3"/><polygon points="761.2,269.6 777.8,295.7 744.6,295.7"/><polygon points="808.6,274.7 825.2,300.8 792.0,300.8"/><polygon points="855.5,278.4 872.1,304.5 838.9,304.5"/><polygon points="902.4,283.9 919.0,310.0 885.8,310.0"/></g>
</g>
<line x1="224.5" y1="277" x2="1661.4" y2="277" stroke="#f0f" stroke-width="2" stroke-dasharray="9 7.47"/>
<g fill="#000"><rect x="197.1" y="57.1" width="7" height="1097.1"/><rect x="197.1" y="1147.3" width="1504.6" height="6.9"/><rect x="204" y="929.2" width="20" height="7"/><rect x="204" y="711.1" width="20" height="7"/><rect x="204" y="493.1" width="20" height="7"/><rect x="204" y="275.0" width="20" height="7"/><rect x="204" y="57.0" width="20" height="7"/><rect x="204" y="1038.2" width="10" height="7"/><rect x="204" y="820.1" width="10" height="7"/><rect x="204" y="602.1" width="10" height="7"/><rect x="204" y="384.1" width="10" height="7"/><rect x="204" y="166.0" width="10" height="7"/><rect x="571.5" y="1127.5" width="7" height="20"/><rect x="945.8" y="1127.5" width="7" height="20"/><rect x="1320.2" y="1127.5" width="7" height="20"/><rect x="1694.5" y="1127.5" width="7" height="20"/><rect x="384.3" y="1137.3" width="7" height="10"/><rect x="758.6" y="1137.3" width="7" height="10"/><rect x="1133.0" y="1137.3" width="7" height="10"/><rect x="1507.4" y="1137.3" width="7" height="10"/></g>
<g class="tick"><text transform="translate(176 1170.5) scale(1 1.02)" text-anchor="end">0</text><text transform="translate(176 952.5) scale(1 1.02)" text-anchor="end">5</text><text transform="translate(176 734.4) scale(1 1.02)" text-anchor="end">10</text><text transform="translate(176 516.4) scale(1 1.02)" text-anchor="end">15</text><text transform="translate(176 298.3) scale(1 1.02)" text-anchor="end">20</text><text transform="translate(176 80.3) scale(1 1.02)" text-anchor="end">25</text><text transform="translate(199.1 1228.8) scale(1 1.02)" text-anchor="middle">0</text><text transform="translate(573.5 1228.8) scale(1 1.02)" text-anchor="middle">20</text><text transform="translate(947.8 1228.8) scale(1 1.02)" text-anchor="middle">40</text><text transform="translate(1322.2 1228.8) scale(1 1.02)" text-anchor="middle">60</text><text transform="translate(1696.5 1228.8) scale(1 1.02)" text-anchor="middle">80</text></g>
<text class="title" x="787.2" y="1299.5" xml:space="preserve" style="letter-spacing:0.45px">Time / s</text>
<text class="title" transform="translate(82,901) rotate(-90)" x="0" y="0" xml:space="preserve" style="font-size:77px">Pressure  / MPa</text>
<line x1="1008" y1="811" x2="1129" y2="811" stroke="#000" stroke-width="3.5"/><rect x="1056" y="799" width="19.5" height="19.5" fill="#000"/><line x1="1008" y1="874" x2="1129" y2="874" stroke="#f00" stroke-width="3.5"/><circle cx="1066" cy="872.2" r="10.6" fill="#f00"/><line x1="1008" y1="937" x2="1129" y2="937" stroke="#00f" stroke-width="3.5"/><polygon points="1068.5,921 1085.3,947.6 1051.7,947.6" fill="#00f"/><text class="leg" x="1157" y="827.3">6.7 MPa</text><text class="leg" x="1157" y="889.9">8.2 MPa</text><text class="leg" x="1157" y="953.1">12.5 MPa</text>
</svg></body></html>
